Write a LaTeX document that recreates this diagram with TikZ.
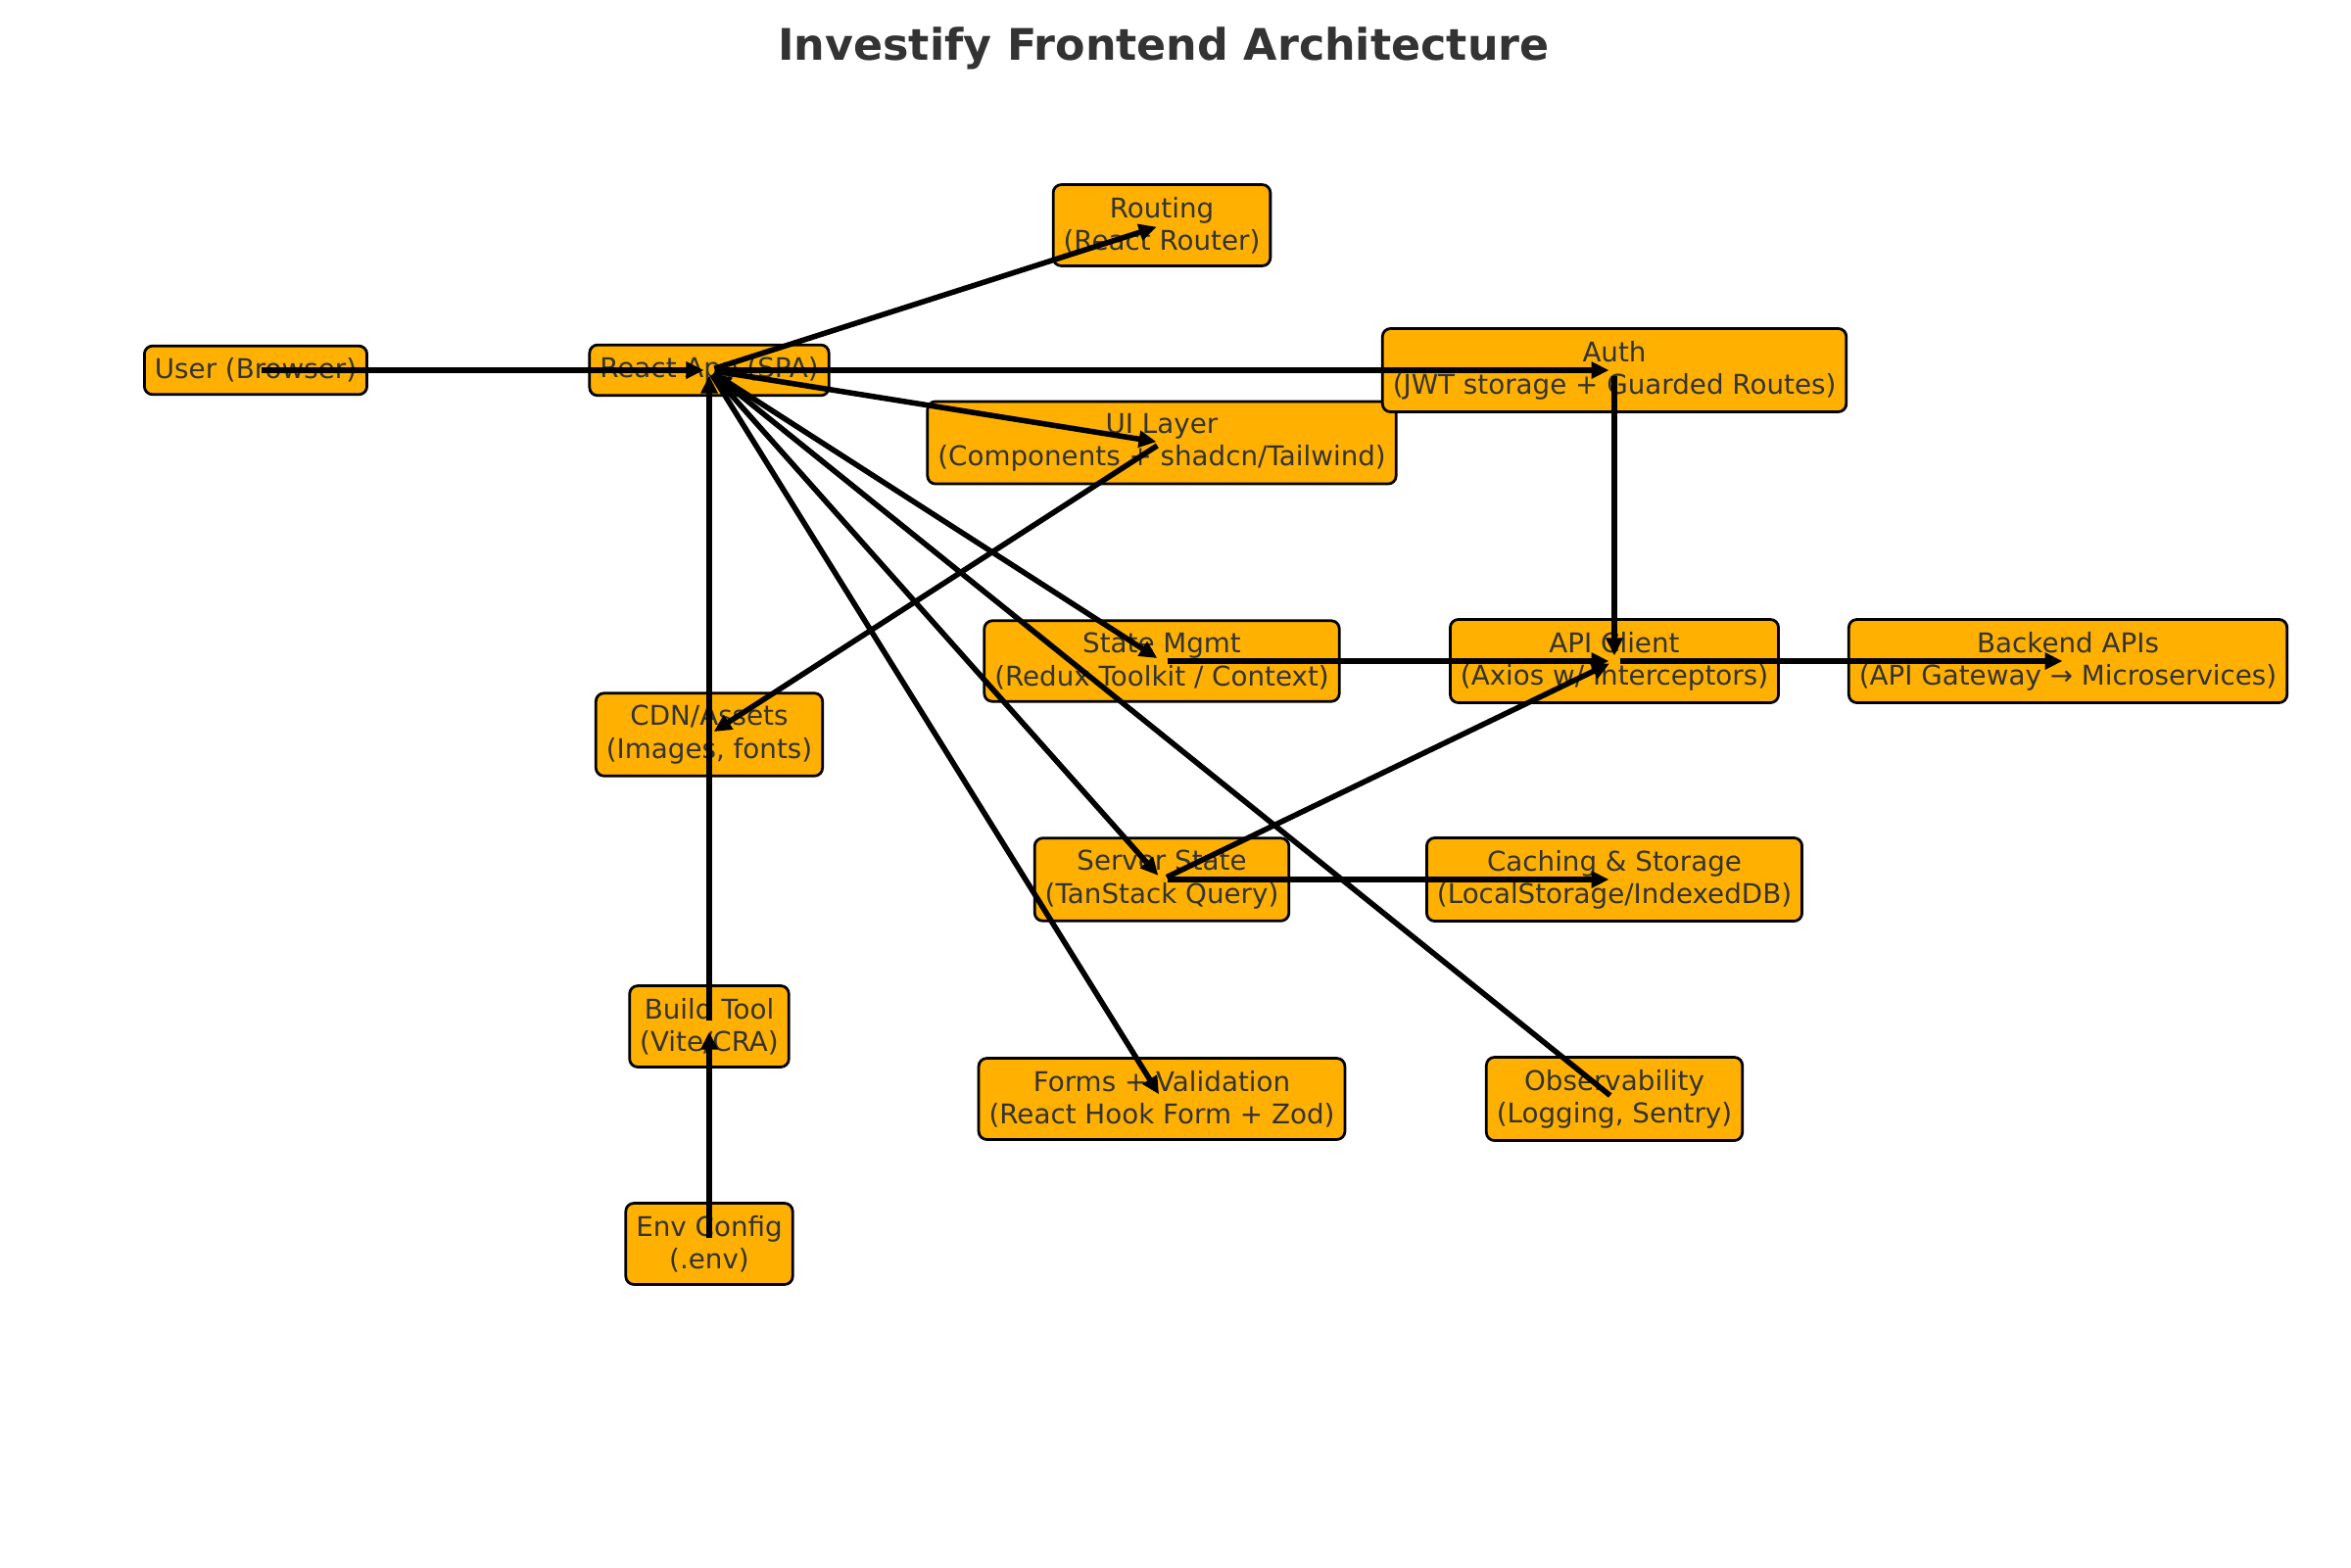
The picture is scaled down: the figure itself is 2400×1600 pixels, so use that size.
\documentclass[tikz,border=0pt]{standalone}
\usepackage{fontspec}
\setmainfont{DejaVu Sans}
\usetikzlibrary{arrows.meta}
\definecolor{boxfill}{HTML}{FFB000}
\definecolor{txt}{HTML}{333333}
\tikzset{
  part/.style={draw=black, line width=1pt, fill=boxfill, rounded corners=3pt,
    inner xsep=3.8pt, inner ysep=4.5pt, align=center, text=txt,
    font=\fontsize{10bp}{12bp}\selectfont},
  link/.style={line width=2bp, -{Triangle[length=6.5pt,width=6pt]},
    shorten >=2bp, shorten <=2bp}
}
\begin{document}
\begin{tikzpicture}[x=0.005in, y=-0.005in]
\useasboundingbox [fill=white] (0,0) rectangle (2400,1600);

\node [text=txt, font=\fontsize{16bp}{19bp}\selectfont\bfseries] (title) at (1188,49) {Investify Frontend Architecture};

\node [part] (user) at (261,378) {User (Browser)};
\node [part] (app) at (724,378) {React App (SPA)};
\node [part] (routing) at (1186,230) {Routing\\(React Router)};
\node [part] (ui) at (1186,452) {UI Layer\\(Components + shadcn/Tailwind)};
\node [part] (auth) at (1648,378) {Auth\\(JWT storage + Guarded Routes)};
\node [part] (state) at (1186,675) {State Mgmt\\(Redux Toolkit / Context)};
\node [part] (api) at (1648,675) {API Client\\(Axios w/ Interceptors)};
\node [part] (backend) at (2111,675) {Backend APIs\\(API Gateway → Microservices)};
\node [part] (cdn) at (724,750) {CDN/Assets\\(Images, fonts)};
\node [part] (server) at (1186,898) {Server State\\(TanStack Query)};
\node [part] (cache) at (1648,898) {Caching \& Storage\\(LocalStorage/IndexedDB)};
\node [part] (build) at (724,1048) {Build Tool\\(Vite/CRA)};
\node [part] (forms) at (1186,1122) {Forms + Validation\\(React Hook Form + Zod)};
\node [part] (obs) at (1648,1122) {Observability\\(Logging, Sentry)};
\node [part] (env) at (724,1270) {Env Config\\(.env)};

\draw [link] (user.center) -- (app.center);
\draw [link] (app.center) -- (routing.center);
\draw [link] (app.center) -- (auth.center);
\draw [link] (app.center) -- (ui.center);
\draw [link] (ui.center) -- (cdn.center);
\draw [link] (app.center) -- (state.center);
\draw [link] (app.center) -- (server.center);
\draw [link] (app.center) -- (forms.center);
\draw [link] (obs.center) -- (app.center);
\draw [link] (build.center) -- (app.center);
\draw [link] (env.center) -- (build.center);
\draw [link] (auth.center) -- (api.center);
\draw [link] (state.center) -- (api.center);
\draw [link] (server.center) -- (api.center);
\draw [link] (server.center) -- (cache.center);
\draw [link] (api.center) -- (backend.center);
\end{tikzpicture}
\end{document}
